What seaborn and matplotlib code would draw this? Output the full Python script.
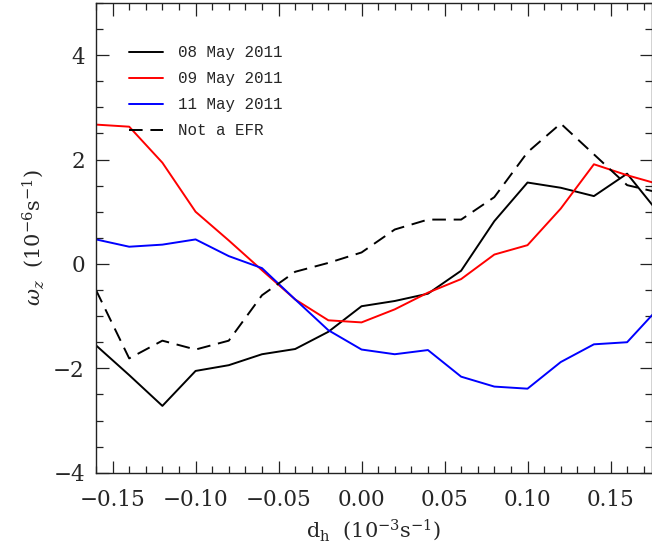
import matplotlib
matplotlib.use("Agg")
import matplotlib.pyplot as plt
from matplotlib.ticker import MultipleLocator, FuncFormatter
import seaborn as sns
import pandas as pd

# horizontal divergence bins (10^-3 s^-1)
dh = [-0.16, -0.14, -0.12, -0.10, -0.08, -0.06, -0.04, -0.02, 0.00,
      0.02, 0.04, 0.06, 0.08, 0.10, 0.12, 0.14, 0.16, 0.18]

# mean vertical vorticity per bin (10^-6 s^-1)
may08 = [-1.56, -2.13, -2.72, -2.05, -1.94, -1.73, -1.63, -1.30, -0.81,
         -0.71, -0.57, -0.13, 0.82, 1.56, 1.46, 1.30, 1.73, 0.94]
may09 = [2.67, 2.63, 1.94, 1.00, 0.45, -0.12, -0.68, -1.08, -1.12,
         -0.87, -0.55, -0.29, 0.18, 0.36, 1.06, 1.91, 1.70, 1.52]
may11 = [0.47, 0.33, 0.37, 0.47, 0.15, -0.08, -0.68, -1.27, -1.64,
         -1.73, -1.65, -2.16, -2.35, -2.39, -1.88, -1.54, -1.50, -0.81]
not_efr = [-0.50, -1.81, -1.47, -1.64, -1.47, -0.60, -0.15, 0.02, 0.22,
           0.66, 0.85, 0.85, 1.28, 2.14, 2.69, 2.10, 1.51, 1.36]

series = [
    ("08 May 2011", may08, "black", "-"),
    ("09 May 2011", may09, "red", "-"),
    ("11 May 2011", may11, "blue", "-"),
    ("Not a EFR", not_efr, "black", (0, (7, 4))),
]

sns.set_style("ticks")
plt.rcParams["mathtext.fontset"] = "dejavuserif"
plt.rcParams["font.family"] = ["DejaVu Serif"]

fig = plt.figure(figsize=(6.52, 5.54), dpi=100)
ax = fig.add_axes([96 / 652, 1 - 472.7 / 554, 1 - 96 / 652, (472.7 - 3) / 554])

for label, vals, color, ls in series:
    df = pd.DataFrame({"dh": dh, "wz": vals})
    sns.lineplot(data=df, x="dh", y="wz", ax=ax, color=color, linestyle=ls,
                 linewidth=1.4, label=label, estimator=None, sort=False)

ax.set_xlim(-0.16, 0.175)
ax.set_ylim(-4, 5)
ax.xaxis.set_major_locator(MultipleLocator(0.05))
ax.xaxis.set_minor_locator(MultipleLocator(0.01))
ax.yaxis.set_major_locator(MultipleLocator(2))
ax.yaxis.set_minor_locator(MultipleLocator(0.5))
ax.xaxis.set_major_formatter(FuncFormatter(lambda v, p: f"{v:.2f}".replace("-", "\u2212")))
ax.yaxis.set_major_formatter(FuncFormatter(lambda v, p: f"{v:.0f}".replace("-", "\u2212")))

ax.tick_params(which="both", direction="in", top=True, right=True,
               width=0.9, color="#222222", labelsize=15.5)
ax.tick_params(axis="x", pad=12)
ax.tick_params(axis="y", pad=8)
ax.tick_params(which="major", length=9)
ax.tick_params(which="minor", length=5)
for s in ax.spines.values():
    s.set_linewidth(1.0)
    s.set_color("#222222")

ax.set_xlabel(r"$\mathrm{d_h}\ \ (10^{-3}\mathrm{s}^{-1})$", fontsize=15, labelpad=4)
ax.set_ylabel(r"$\omega_z\ \ (10^{-6}\mathrm{s}^{-1})$", fontsize=15, labelpad=5)

leg = ax.legend(loc="upper left", bbox_to_anchor=(0.06, 0.91), frameon=False,
                prop={"family": "Liberation Mono", "size": 11.4},
                handlelength=2.1, handletextpad=1.0, labelspacing=0.69,
                borderpad=0, borderaxespad=0)

fig.savefig("out.png", dpi=100)
